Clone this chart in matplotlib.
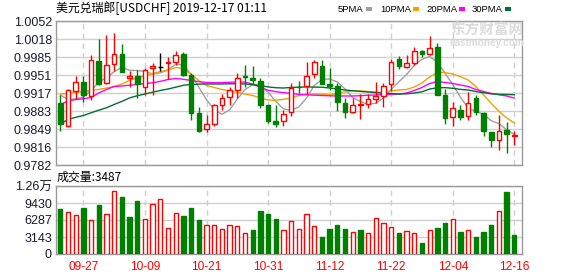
# -*- coding: utf-8 -*-
# 美元兑瑞郎 日K线 + 成交量
import numpy as np
import pandas as pd
import matplotlib
matplotlib.use('Agg')
import matplotlib.pyplot as plt
from matplotlib.patches import Rectangle

plt.rcParams['font.family'] = ['Liberation Sans', 'Noto Sans CJK SC', 'DejaVu Sans']

# === 数据 ===
dates = pd.bdate_range('2019-09-24', '2019-12-16').strftime('%m-%d')
tick_labels = ['09-27', '10-09', '10-21', '10-31', '11-12', '11-22', '12-04', '12-16']

opens = [0.9898, 0.9855, 0.9920, 0.9938, 0.9911, 0.9977, 0.9935, 0.9971, 0.9990, 0.9945,
         0.9949, 0.9928, 0.9963, 0.9966, 0.9973, 0.9976, 0.9990, 0.9951, 0.9879, 0.9849,
         0.9858, 0.9895, 0.9909, 0.9922, 0.9948, 0.9946, 0.9940, 0.9894, 0.9865, 0.9864,
         0.9881, 0.9929, 0.9930, 0.9952, 0.9967, 0.9933, 0.9930, 0.9899, 0.9881, 0.9895,
         0.9896, 0.9906, 0.9911, 0.9933, 0.9981, 0.9965, 0.9973, 0.9995, 0.9990, 1.0003,
         0.9913, 0.9872, 0.9885, 0.9873, 0.9907, 0.9880, 0.9843, 0.9828, 0.9847, 0.9836]
highs = [0.9913, 0.9925, 0.9948, 0.9948, 0.9988, 1.0018, 1.0026, 1.0030, 1.0009, 0.9958,
         0.9960, 0.9963, 0.9973, 0.9992, 0.9984, 0.9995, 0.9993, 0.9955, 0.9891, 0.9875,
         0.9896, 0.9915, 0.9928, 0.9955, 0.9969, 0.9967, 0.9945, 0.9894, 0.9894, 0.9885,
         0.9935, 0.9940, 0.9975, 0.9978, 0.9978, 0.9964, 0.9935, 0.9908, 0.9908, 0.9916,
         0.9915, 0.9937, 0.9935, 0.9981, 0.9986, 0.9988, 1.0003, 0.9998, 1.0023, 1.0010,
         0.9925, 0.9900, 0.9894, 0.9919, 0.9913, 0.9881, 0.9843, 0.9875, 0.9862, 0.9845]
lows = [0.9845, 0.9853, 0.9906, 0.9900, 0.9904, 0.9932, 0.9933, 0.9958, 0.9956, 0.9928,
        0.9907, 0.9914, 0.9914, 0.9958, 0.9943, 0.9970, 0.9948, 0.9867, 0.9843, 0.9843,
        0.9856, 0.9885, 0.9894, 0.9908, 0.9928, 0.9933, 0.9888, 0.9860, 0.9853, 0.9855,
        0.9873, 0.9917, 0.9916, 0.9945, 0.9933, 0.9923, 0.9884, 0.9871, 0.9880, 0.9869,
        0.9888, 0.9898, 0.9891, 0.9920, 0.9962, 0.9963, 0.9970, 0.9984, 0.9988, 0.9913,
        0.9858, 0.9856, 0.9867, 0.9866, 0.9876, 0.9836, 0.9815, 0.9811, 0.9805, 0.9820]
closes = [0.9858, 0.9923, 0.9937, 0.9913, 0.9978, 0.9934, 0.9969, 0.9990, 0.9956, 0.9948,
          0.9933, 0.9960, 0.9967, 0.9966, 0.9975, 0.9988, 0.9951, 0.9880, 0.9845, 0.9858,
          0.9894, 0.9908, 0.9922, 0.9946, 0.9947, 0.9941, 0.9895, 0.9865, 0.9858, 0.9877,
          0.9927, 0.9928, 0.9948, 0.9975, 0.9934, 0.9931, 0.9901, 0.9882, 0.9895, 0.9896,
          0.9905, 0.9911, 0.9931, 0.9975, 0.9968, 0.9973, 0.9996, 0.9990, 1.0001, 0.9913,
          0.9871, 0.9889, 0.9872, 0.9899, 0.9881, 0.9845, 0.9828, 0.9845, 0.9841, 0.9838]

volumes = [8300, 7690, 7200, 8480, 6225, 9090, 7385, 11600, 10500, 6835,
           9765, 6470, 9215, 10130, 4760, 7570, 7020, 8480, 6285, 5370,
           5370, 4640, 5370, 5190, 3900, 4455, 7935, 7445, 6470, 4455,
           6120, 4616, 7410, 5224, 3219, 4677, 5406, 4677, 4130, 4495,
           3948, 6620, 5770, 5041, 3948, 4252, 3948, 1944, 4495, 4859,
           5770, 6438, 4130, 4495, 3219, 4130, 5406, 7957, 11419, 3487]
# 成交量柱颜色: 1 = 红(涨), 0 = 绿(跌)
vol_up = [0, 1, 1, 0, 1, 0, 1, 1, 0, 0,
          0, 1, 1, 1, 1, 1, 0, 0, 0, 1,
          1, 1, 1, 1, 1, 0, 0, 0, 0, 1,
          1, 1, 1, 1, 0, 0, 0, 0, 1, 0,
          1, 1, 1, 1, 0, 1, 1, 0, 1, 0,
          0, 1, 0, 1, 0, 0, 0, 1, 0, 0]

ma5 = [0.99133, 0.99048, 0.99058, 0.99095, 0.99218, 0.99370, 0.99462, 0.99568, 0.99654, 0.99594,
       0.99592, 0.99574, 0.99528, 0.99548, 0.99602, 0.99712, 0.99694, 0.99520, 0.99278, 0.99044,
       0.98856, 0.98770, 0.98854, 0.99056, 0.99234, 0.99328, 0.99302, 0.99188, 0.99012, 0.98872,
       0.98844, 0.98910, 0.99076, 0.99310, 0.99424, 0.99432, 0.99378, 0.99246, 0.99086, 0.99010,
       0.98958, 0.98978, 0.99076, 0.99236, 0.99380, 0.99516, 0.99686, 0.99804, 0.99856, 0.99746,
       0.99542, 0.99328, 0.99092, 0.98888, 0.98824, 0.98772, 0.98650, 0.98596, 0.98480, 0.98394]
ma10 = [0.99151, 0.99161, 0.99180, 0.99198, 0.99217, 0.99236, 0.99264, 0.99292, 0.99339, 0.99406,
        0.99451, 0.99489, 0.99535, 0.99573, 0.99601, 0.99648, 0.99629, 0.99517, 0.99404, 0.99311,
        0.99273, 0.99236, 0.99208, 0.99180, 0.99151, 0.99123, 0.99076, 0.99039, 0.99033, 0.99052,
        0.99073, 0.99123, 0.99151, 0.99151, 0.99147, 0.99138, 0.99161, 0.99189, 0.99213, 0.99208,
        0.99198, 0.99189, 0.99180, 0.99208, 0.99226, 0.99236, 0.99283, 0.99358, 0.99470, 0.99554,
        0.99554, 0.99526, 0.99476, 0.99414, 0.99292, 0.99133, 0.98976, 0.98826, 0.98704, 0.98608]
ma20 = [0.98954, 0.99020, 0.99048, 0.99061, 0.99086, 0.99170, 0.99236, 0.99292, 0.99301, 0.99316,
        0.99329, 0.99348, 0.99361, 0.99389, 0.99423, 0.99442, 0.99427, 0.99404, 0.99382, 0.99367,
        0.99363, 0.99365, 0.99371, 0.99376, 0.99373, 0.99339, 0.99273, 0.99221, 0.99196, 0.99177,
        0.99161, 0.99144, 0.99136, 0.99129, 0.99123, 0.99118, 0.99114, 0.99114, 0.99114, 0.99119,
        0.99127, 0.99133, 0.99138, 0.99142, 0.99149, 0.99170, 0.99217, 0.99273, 0.99348, 0.99386,
        0.99367, 0.99348, 0.99320, 0.99292, 0.99236, 0.99198, 0.99161, 0.99136, 0.99114, 0.99076]
ma30 = [0.98589, 0.98673, 0.98714, 0.98748, 0.98799, 0.98848, 0.98893, 0.98956, 0.99012, 0.99078,
        0.99118, 0.99152, 0.99185, 0.99217, 0.99245, 0.99279, 0.99315, 0.99330, 0.99336, 0.99339,
        0.99339, 0.99339, 0.99343, 0.99343, 0.99339, 0.99326, 0.99311, 0.99284, 0.99269, 0.99264,
        0.99274, 0.99279, 0.99284, 0.99281, 0.99278, 0.99264, 0.99245, 0.99226, 0.99213, 0.99200,
        0.99189, 0.99176, 0.99165, 0.99159, 0.99151, 0.99155, 0.99170, 0.99193, 0.99245, 0.99268,
        0.99271, 0.99258, 0.99238, 0.99226, 0.99198, 0.99176, 0.99155, 0.99146, 0.99142, 0.99138]

price_ticks = ['0.9782', '0.9816', '0.9849', '0.9883', '0.9917', '0.9951', '0.9985', '1.0018', '1.0052']
vol_ticks = ['0', '3143', '6287', '9430', '1.26万']

# 颜色
RED = '#ff0000'
GREEN = '#008000'
MA_COLORS = ['#a0a0a0', '#f5a000', '#ff00ff', '#007030']
GRID = '#d0d0d0'
FRAME = '#999999'
LABEL = '#1a1a33'

# === 画布 ===
W, H = 578, 276
fig = plt.figure(figsize=(W / 100, H / 100), dpi=100)
ax = fig.add_axes([56 / W, 1 - 165 / H, 466 / W, 144 / H])
axv = fig.add_axes([56 / W, 1 - 254 / H, 466 / W, 68 / H])

x = np.arange(len(closes))
o = np.array(opens)
c = np.array(closes)
hi = np.array(highs)
lo = np.array(lows)
top = np.maximum(o, c)
bot = np.minimum(o, c)
edge = np.where(c > o, RED, np.where(c < o, GREEN, '#000000'))
fill = np.where(c > o, 'white', np.where(c < o, GREEN, '#000000'))

# 均线 (在K线下方)
for ma, col in zip([ma5, ma10, ma20, ma30], MA_COLORS):
    ax.plot(x, ma, color=col, lw=1.0, zorder=2)

# K线影线
ax.vlines(x, top, hi, colors=edge, lw=1.0, zorder=3)
ax.vlines(x, lo, bot, colors=edge, lw=1.0, zorder=3)
# K线实体
body = c != o
ax.bar(x[body], (top - bot)[body], bottom=bot[body], width=0.6,
       color=fill[body], edgecolor=edge[body], linewidth=1.0, zorder=4)
flat = ~body
ax.hlines(c[flat], x[flat] - 0.3, x[flat] + 0.3, colors=edge[flat], lw=1.0, zorder=4)

ymin, ymax = 0.9782, 1.0052
ax.set_ylim(ymin, ymax)
ax.set_xlim(-0.56, 60.0)
ax.set_yticks(np.linspace(ymin, ymax, len(price_ticks)))
ax.set_yticklabels(price_ticks)

tick_pos = [i for i, d in enumerate(dates) if d in tick_labels]
ax.set_xticks(tick_pos)
ax.set_xticklabels([])

# 成交量
vu = np.array(vol_up) == 1
axv.bar(x, volumes, width=0.56, color=np.where(vu, 'white', GREEN),
        edgecolor=np.where(vu, RED, GREEN), linewidth=1.0, zorder=3)
vmax = 12573
axv.set_ylim(0, vmax)
axv.set_xlim(-0.56, 60.0)
axv.set_yticks(np.linspace(0, vmax, len(vol_ticks)))
axv.set_yticklabels(vol_ticks)
axv.set_xticks(tick_pos)
axv.set_xticklabels([dates[i] for i in tick_pos])

for a in (ax, axv):
    for s in a.spines.values():
        s.set_color(FRAME)
        s.set_linewidth(1.0)
    a.xaxis.grid(True, linestyle=(0, (4, 3)), color=GRID, lw=1.0)
    a.yaxis.grid(True, linestyle='-', color=GRID, lw=1.0)
    a.set_axisbelow(True)
    a.tick_params(axis='y', length=0, pad=3, labelsize=9, labelcolor=LABEL)
    a.tick_params(axis='x', length=0, pad=5, labelsize=8.6, labelcolor=RED)

# 标题与图例
fig.text(56 / W, 1 - 8.5 / H, '美元兑瑞郎[USDCHF] 2019-12-17 01:11',
         family=['Noto Sans CJK SC'], fontsize=8.6, va='center', ha='left')
legend_items = [('5PMA', 338, 366), ('10PMA', 380, 413), ('20PMA', 426, 459), ('30PMA', 472, 505)]
for (name, tx, sx), col in zip(legend_items, MA_COLORS):
    fig.text(tx / W, 1 - 9 / H, name, fontsize=6.8, va='center', ha='left')
    fig.add_artist(Rectangle((sx / W, 1 - 11 / H), 6 / W, 4 / H,
                             transform=fig.transFigure, color=col, lw=0))

fig.text(57 / W, 1 - 177 / H, '成交量:' + str(volumes[-1]),
         family=['Noto Sans CJK SC'], fontsize=8.6, va='center', ha='left')

# 水印
fig.text(450 / W, 1 - 30 / H, '东方财富网', family=['Noto Sans CJK SC'],
         fontsize=10.5, fontweight='bold', color='#dcdcdc', va='center', ha='left', zorder=0)
fig.text(450 / W, 1 - 43 / H, 'eastmoney.com', fontsize=7.2, fontweight='bold',
         color='#dcdcdc', va='center', ha='left', zorder=0)

fig.savefig('out.png', dpi=100)
